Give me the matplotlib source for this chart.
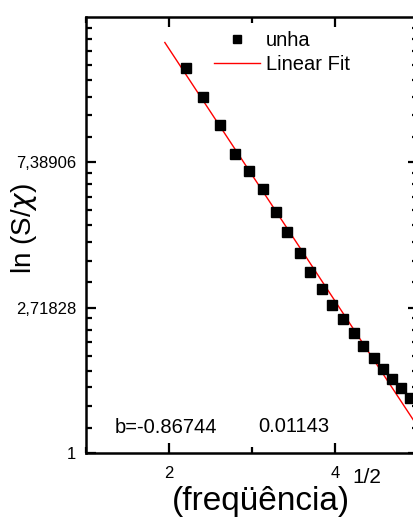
import numpy as np
import matplotlib
matplotlib.use("Agg")
import matplotlib.pyplot as plt
from matplotlib.ticker import FixedLocator, FixedFormatter

plt.rcParams["font.family"] = ["Liberation Sans", "DejaVu Sans"]
plt.rcParams["mathtext.fontset"] = "dejavusans"

# data
sqrt_freq = [2.20, 2.41, 2.62, 2.80, 2.97, 3.13, 3.29, 3.42, 3.58, 3.70,
             3.84, 3.97, 4.10, 4.23, 4.34, 4.47, 4.58, 4.69, 4.79, 4.90]
s_chi = [14.10, 11.55, 9.56, 7.85, 6.96, 6.13, 5.24, 4.58, 3.96, 3.48,
         3.10, 2.775, 2.515, 2.284, 2.092, 1.929, 1.784, 1.665, 1.562, 1.464]

fit_slope = -0.86744
fit_slope_err = 0.01143
fit_intercept = 4.516
fit_range = [1.95, 5.0]

ytick_vals = [1, np.e, np.e ** 2]
ytick_labels = ["1", "2,71828", "7,38906"]


def main():
    fig = plt.figure(figsize=(4.14, 5.18), dpi=100)
    ax = fig.add_axes([0.2077, 0.1255, 0.8019, 0.8417])

    xf = np.linspace(fit_range[0], fit_range[1], 50)
    ax.plot(xf, np.exp(fit_intercept + fit_slope * xf), color="red", lw=1.0,
            label="Linear Fit", zorder=2)
    ax.plot(sqrt_freq, s_chi, "s", color="black", ms=7, label="unha", zorder=3)

    ax.set_yscale("log")
    ax.set_xlim(1, 5)
    ax.set_ylim(1, np.e ** 3)

    ax.xaxis.set_major_locator(FixedLocator([2, 4]))
    ax.xaxis.set_minor_locator(FixedLocator([1, 3, 5]))
    ax.yaxis.set_major_locator(FixedLocator(ytick_vals))
    ax.yaxis.set_major_formatter(FixedFormatter(ytick_labels))
    minors = []
    for k in range(3):
        lo, hi = np.e ** k, np.e ** (k + 1)
        minors += list(lo + (hi - lo) * np.arange(1, 9) / 9)
    ax.yaxis.set_minor_locator(FixedLocator(minors))
    ax.yaxis.set_minor_formatter(FixedFormatter([""] * len(minors)))

    ax.tick_params(which="both", direction="in", top=True, right=True,
                   labelsize=12, width=1.6)
    ax.tick_params(which="major", length=7.5, pad=7)
    ax.tick_params(axis="x", which="major", pad=9.5)
    ax.tick_params(which="minor", length=4)
    for s in ax.spines.values():
        s.set_linewidth(1.8)

    # x label with a raised exponent, as in the original
    fig.text(172 / 414, 8 / 518, "(freqüência)", fontsize=24,
             ha="left", va="baseline")
    fig.text(352 / 414, 35 / 518, "1/2", fontsize=15, ha="left", va="baseline")

    ax.set_ylabel(r"ln (S/$\chi$)", fontsize=20, va="center", ha="center")
    ax.yaxis.set_label_coords(-0.188, 0.515)

    ax.text(1.35, np.exp(0.172), "b=%.5f" % fit_slope, fontsize=14.5,
            va="center", ha="left")
    ax.text(3.08, np.exp(0.182), "%.5f" % fit_slope_err, fontsize=14.5,
            va="center", ha="left")

    handles, labels = ax.get_legend_handles_labels()
    fig.legend(handles[::-1], labels[::-1], loc="upper left",
               bbox_to_anchor=(0.516, 0.940), frameon=False, fontsize=14.5,
               borderpad=0, borderaxespad=0, handlelength=2.3,
               handletextpad=0.3, labelspacing=0.25, markerscale=0.85)

    fig.savefig("out.png", dpi=100)


if __name__ == "__main__":
    main()
